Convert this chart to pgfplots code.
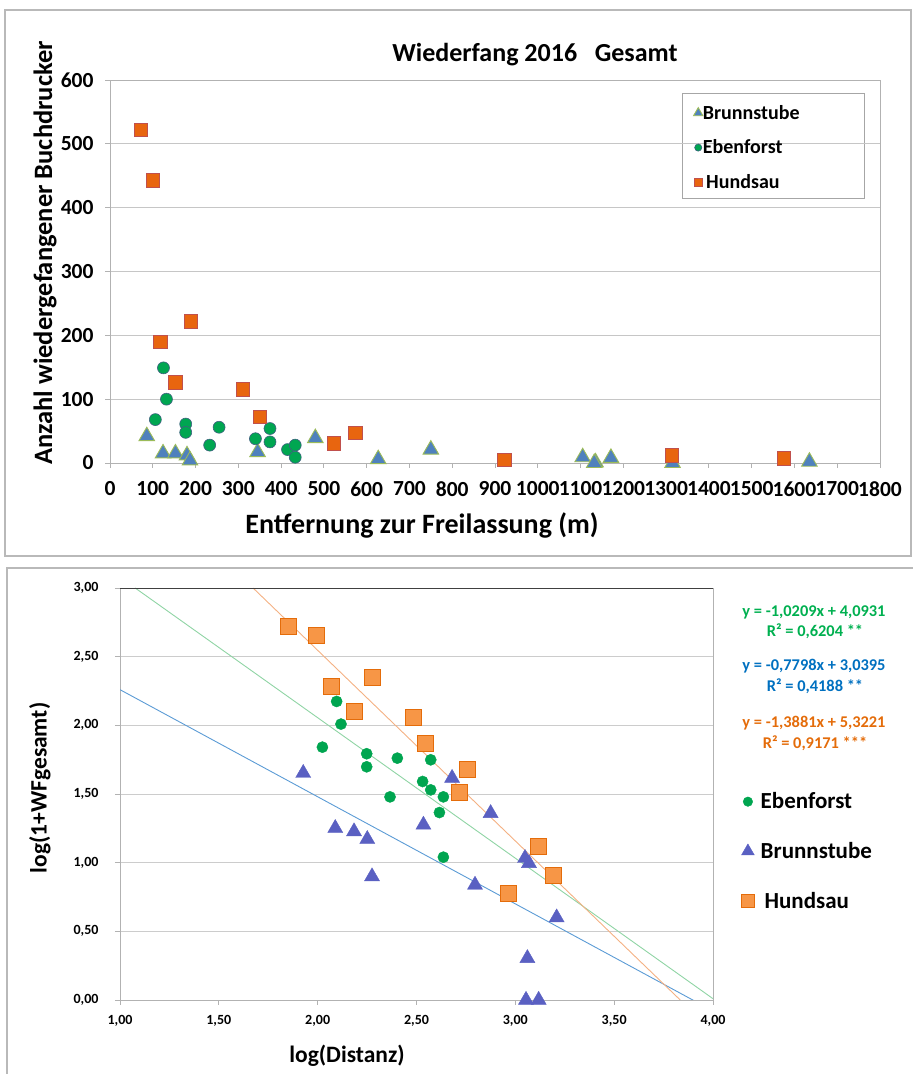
\documentclass[border=0pt]{standalone}
\usepackage{pgfplots}
\pgfplotsset{compat=1.18}
\usepackage{fontspec}
\setmainfont{Carlito}
\definecolor{topOr}{HTML}{E8650F}
\definecolor{topOrE}{HTML}{C0504D}
\definecolor{topGr}{HTML}{00A651}
\definecolor{topGrE}{HTML}{3F6080}
\definecolor{topBl}{HTML}{4F81BD}
\definecolor{topBlE}{HTML}{9BBB59}
\definecolor{botOr}{HTML}{F79646}
\definecolor{botOrE}{HTML}{E46C0A}
\definecolor{botGr}{HTML}{00A550}
\definecolor{botBl}{HTML}{5A60C2}
\definecolor{lnGr}{HTML}{8FD4A4}
\definecolor{lnBl}{HTML}{5B9BD5}
\definecolor{lnOr}{HTML}{F4B183}
\definecolor{eqGr}{HTML}{00B050}
\definecolor{eqBl}{HTML}{0070C0}
\definecolor{eqOr}{HTML}{E46C0A}
\begin{document}
\begin{tikzpicture}[x=1pt,y=1pt]
\clip (0pt,0pt) rectangle (913pt,1074pt);
% frames
\draw[gray!55, line width=1.5pt] (5pt,1064pt) rectangle (911pt,518pt);
\draw[gray!55, line width=1.5pt] (7pt,506pt) rectangle (930pt,-20pt);
% legend frame (top chart)
\draw[gray!70, line width=0.8pt] (682pt,981pt) rectangle (864pt,876pt);
% ---------------- top chart ----------------
\begin{axis}[
  at={(110pt,611pt)}, anchor=south west, scale only axis,
  width=770pt, height=383pt,
  xmin=0, xmax=1800, ymin=0, ymax=600,
  xtick={0,100,...,1800}, ytick={0,100,...,600},
  ymajorgrids, grid style={gray!45, line width=0.8pt},
  axis line style={gray!60, line width=0.8pt},
  tick style={gray!60, line width=0.8pt},
  tick align=outside, major tick length=5pt,
  xtick pos=bottom, ytick pos=left,
  /pgf/number format/assume math mode=true,
  /pgf/number format/1000 sep={},
  ticklabel style={font=\fontsize{21.5}{22}\selectfont\bfseries},
  xticklabel style={yshift=-10pt},
  yticklabel style={xshift=-8pt},
  clip=false,
  legend style={at={(0.755,0.945)}, anchor=north west, draw=none, fill=none,
    font=\fontsize{20}{22}\selectfont\bfseries,
    row sep=15pt, inner xsep=2pt, inner ysep=2pt, legend cell align=left,
    /tikz/every odd column/.append style={column sep=-2pt}},
  legend image post style={scale=0.6},
]
\addplot[only marks, mark=triangle*, mark size=9pt,
  mark options={fill=topBl, draw=topBlE, line width=0.9pt}] coordinates {
(86,42) (124,15) (153,15) (180,12) (187,4) (345,17) (480,39) (627,6)
(750,21) (1105,9) (1135,1) (1132,0) (1171,8) (1315,0) (1635,2)};
\addlegendentry{Brunnstube}
\addplot[only marks, mark=*, mark size=6pt,
  mark options={fill=topGr, draw=topGrE, line width=0.6pt}] coordinates {
(125,149) (132,100) (106,68) (177,61) (177,48) (233,28) (255,56)
(340,38) (374,54) (374,33) (415,21) (433,28) (433,9)};
\addlegendentry{Ebenforst}
\addplot[only marks, mark=square*, mark size=6.7pt,
  mark options={fill=topOr, draw=topOrE, line width=0.8pt}] coordinates {
(72,522) (100,443) (118,190) (189,222) (153,126) (310,115) (351,72)
(524,31) (574,47) (922,5) (1313,12) (1575,7)};
\addlegendentry{\,Hundsau}
\end{axis}
\node[font=\fontsize{26}{28}\selectfont\bfseries] at (535pt,1019pt) {Wiederfang 2016\ \ \ Gesamt};
\node[rotate=90, font=\fontsize{26.5}{29}\selectfont\bfseries] at (45pt,821pt) {Anzahl wiedergefangener Buchdrucker};
\node[font=\fontsize{28}{30}\selectfont\bfseries] at (422pt,549pt) {Entfernung zur Freilassung (m)};
% ---------------- bottom chart ----------------
\begin{axis}[
  at={(120pt,74pt)}, anchor=south west, scale only axis,
  width=593pt, height=412pt,
  xmin=1, xmax=4, ymin=0, ymax=3,
  xtick={1,1.5,...,4}, ytick={0,0.5,...,3},
  ymajorgrids, grid style={gray!40, line width=0.8pt},
  axis line style={gray!60, line width=0.8pt},
  tick style={gray!60, line width=0.8pt},
  tick align=outside, major tick length=5pt,
  xtick pos=bottom, ytick pos=left,
  /pgf/number format/.cd, assume math mode=true, fixed, fixed zerofill,
  precision=2, use comma, /pgfplots/.cd,
  ticklabel style={font=\fontsize{14}{15}\selectfont\bfseries},
  xticklabel style={yshift=-7pt},
  yticklabel style={xshift=-13pt},
  clip mode=individual,
  legend style={at={(1.042,0.513)}, anchor=north west, draw=none, fill=none,
    font=\fontsize{23}{25}\selectfont\bfseries,
    row sep=28pt, legend cell align=left,
    /tikz/every odd column/.append style={column sep=4pt}},
  legend image post style={scale=0.85},
]
\addplot[lnGr, line width=0.9pt, forget plot] coordinates {(1.0768,3.0) (4.0,0.0095)};
\addplot[lnBl, line width=0.9pt, forget plot] coordinates {(1.0,2.2597) (4.0,-0.0797)};
\addplot[lnOr, line width=0.9pt, forget plot] coordinates {(1.6731,3.0) (3.8342,0.0)};
\addplot[only marks, mark=*, mark size=5.6pt,
  mark options={fill=botGr, draw=botGr}] coordinates {
(2.096,2.174) (2.118,2.009) (2.024,1.841) (2.248,1.793) (2.248,1.698)
(2.366,1.479) (2.403,1.761) (2.572,1.749) (2.531,1.591) (2.572,1.530)
(2.636,1.479) (2.616,1.365) (2.636,1.040)};
\addlegendentry{Ebenforst}
\addplot[only marks, mark=triangle*, mark size=8.7pt,
  mark options={fill=botBl, draw=botBl}] coordinates {
(1.927,1.652) (2.089,1.251) (2.184,1.227) (2.251,1.171) (2.275,0.899)
(2.535,1.275) (2.680,1.616) (2.796,0.838) (2.875,1.360) (3.049,1.033)
(3.069,0.996) (3.209,0.600) (3.061,0.304) (3.054,0.0) (3.118,0.0)};
\addlegendentry{Brunnstube}
\addplot[only marks, mark=square*, mark size=8pt,
  mark options={fill=botOr, draw=botOrE, line width=0.8pt}] coordinates {
(1.852,2.721) (1.995,2.653) (2.071,2.283) (2.277,2.349) (2.184,2.101)
(2.484,2.060) (2.543,1.868) (2.759,1.681) (2.717,1.509) (2.966,0.778)
(3.118,1.118) (3.192,0.904)};
\addlegendentry{\,Hundsau}
\draw[black!75, line width=0.9pt] (rel axis cs:0,1) -- (rel axis cs:1,1);
\end{axis}
\begin{scope}[font=\fontsize{16.4}{18}\selectfont\bfseries]
\node[text=eqGr] at (814pt,462pt) {y = -1,0209x + 4,0931};
\node[text=eqGr] at (815pt,443pt) {R² = 0,6204 **};
\node[text=eqBl] at (814pt,408pt) {y = -0,7798x + 3,0395};
\node[text=eqBl] at (815pt,388pt) {R² = 0,4188 **};
\node[text=eqOr] at (814pt,351pt) {y = -1,3881x + 5,3221};
\node[text=eqOr] at (815pt,331pt) {R² = 0,9171 ***};
\end{scope}
\node[rotate=90, font=\fontsize{23.5}{25}\selectfont\bfseries] at (40pt,286pt) {log(1+WFgesamt)};
\node[font=\fontsize{23.5}{25}\selectfont\bfseries] at (347pt,18pt) {log(Distanz)};
\end{tikzpicture}
\end{document}
